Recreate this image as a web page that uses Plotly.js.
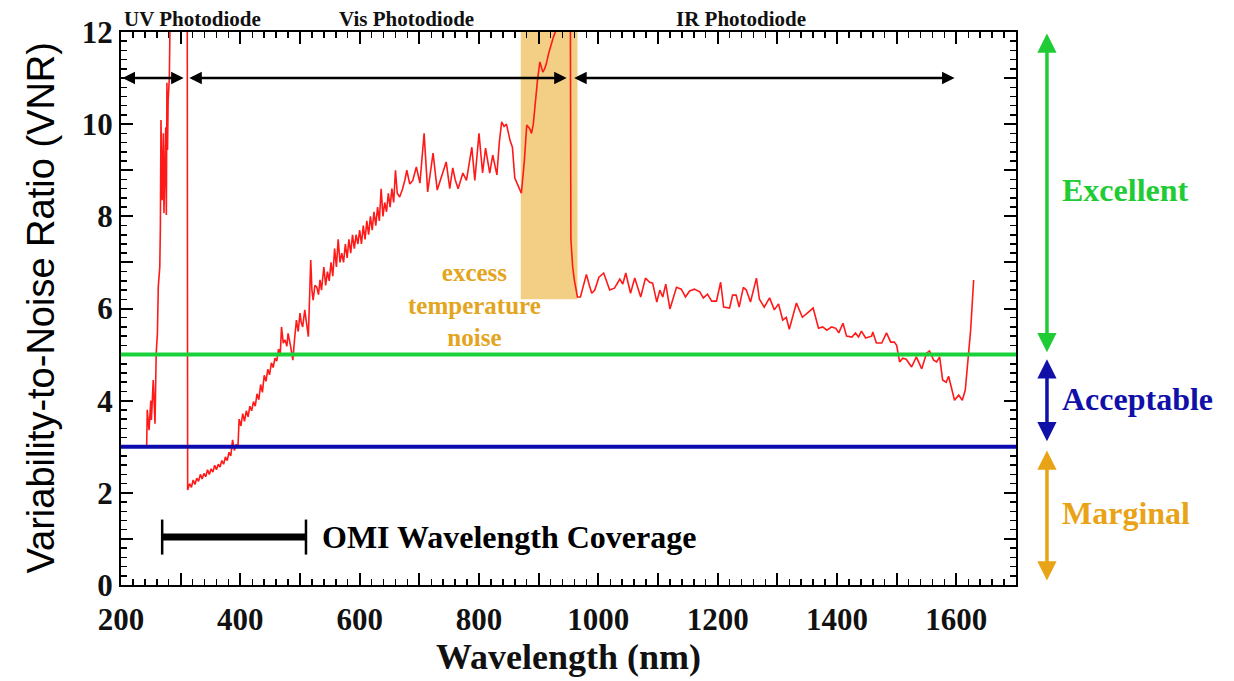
<!DOCTYPE html>
<html>
<head>
<meta charset="utf-8">
<script src="https://cdn.plot.ly/plotly-3.0.1.min.js"></script>
<style>html,body{margin:0;padding:0;background:#fff;}#chart{width:1234px;height:681px;}</style>
</head>
<body>
<div id="chart"></div>
<script>
// ---- Data (values above 12 run off the top of the plot) ----
const uvWl  = [243,244,247,250,251,254,257,259,261,262.5,265,266,267,269,271,272,275,276,277,278,279,281,283,300,311];
const uvVnr = [3.0,3.8,3.36,4.0,3.58,4.45,3.5,5.03,5.46,6.47,6.9,7.77,10.09,8.35,9.8,8.07,9.93,8.03,10.9,9.44,10.5,11.0,13,13,13];

const visWl  = [311.7,315,318,321,324,327,330,333,336,339,342,345,348,351,354,357,360,363,366,369,372,375,378,381,384,387,390,393,396,398,401,404,407,410,413,416,419,422,425,428,431,434,437,440,443,446,449,452,455,458,461,464,467,469,472,475,478,480,484,488,491,494,497,500,502,504.5,508,511,514,518,520,522,525,528,531,533.5,536,540,543,546,549,552,555,558,561,564,567,570,573,576,579,582,585,588,591,594,597,600,603,606,609,612,615,618,621,624,627,630,633,636,639,642,645,648,651,654,657,660,663,667,672,676,679,684,689,695,701,708,714,718,723,730,737,745,751,756,760,765,773,779,783,788,793,800,806,811,818,823,830,834,838,842,846,852,856,860,866,871,876,880,885,888,891,895,898,902,905,907,910,913,917,921,925,928,932,940,953];
const visVnr = [2.06,2.2,2.12,2.28,2.18,2.32,2.25,2.4,2.3,2.42,2.35,2.5,2.4,2.52,2.45,2.6,2.5,2.62,2.56,2.7,2.62,2.78,2.7,2.88,2.8,3.15,2.92,3.05,3.0,3.6,3.45,3.72,3.55,3.78,3.65,3.88,3.78,3.98,3.88,4.15,4.02,4.35,4.18,4.55,4.42,4.68,4.56,4.82,4.72,4.92,4.86,5.12,5.02,5.6,5.25,5.32,5.18,5.46,5.2,4.88,5.35,5.75,5.5,5.9,5.7,5.6,5.97,5.7,5.39,7.05,6.4,6.18,6.5,6.47,6.3,6.62,6.4,6.9,6.5,6.8,6.6,7.0,6.7,7.3,6.9,7.5,7.0,7.2,7.0,7.4,7.1,7.5,7.2,7.6,7.3,7.6,7.4,7.7,7.4,7.8,7.5,7.9,7.6,8.0,7.7,8.1,7.8,8.2,7.9,8.6,8.0,8.3,8.1,8.5,8.2,8.6,8.3,9.0,8.5,8.42,8.6,8.8,9.0,8.7,8.78,9.07,8.72,9.8,8.53,8.9,9.37,8.57,8.85,9.18,8.6,9.05,8.8,8.6,8.94,8.78,9.1,9.5,8.78,9.8,8.94,9.48,8.94,9.33,8.9,9.6,10.05,9.95,10.0,9.65,9.5,8.83,8.65,8.5,9.2,9.98,9.9,9.8,10.0,10.6,10.95,11.35,11.2,11.13,11.2,11.32,11.55,11.75,11.9,12.0,12.4,13,13];

const irWl  = [954,957,960,965,970,974,980,985,989,994,1001,1009,1019,1027,1036,1041,1046,1054,1061,1071,1079,1086,1091,1098,1103,1108,1113,1120,1131,1139,1146,1153,1161,1170,1176,1183,1190,1198,1205,1210,1220,1225,1231,1236,1243,1248,1255,1265,1270,1278,1287,1295,1302,1309,1315,1320,1332,1342,1351,1360,1369,1376,1383,1391,1398,1403,1410,1416,1425,1431,1436,1441,1448,1458,1460,1466,1475,1483,1490,1496,1500,1505,1510,1516,1525,1533,1542,1550,1555,1562,1567,1572,1577,1583,1587,1597,1604,1610,1615,1619,1624,1629];
const irVnr = [7.5,6.9,6.6,6.25,6.25,6.47,6.74,6.5,6.33,6.4,6.68,6.77,6.4,6.44,6.64,6.53,6.77,6.33,6.66,6.25,6.66,6.57,6.55,6.14,6.4,6.25,6.53,5.99,6.46,6.42,6.25,6.38,6.42,6.36,6.23,6.31,6.16,6.16,6.57,6.03,6.01,6.29,6.29,6.03,6.46,6.4,6.14,6.66,6.2,6.03,6.23,5.97,6.1,5.75,5.81,5.55,6.12,5.81,5.92,6.01,5.57,5.6,5.53,5.6,5.57,5.47,5.68,5.4,5.38,5.47,5.38,5.51,5.36,5.4,5.49,5.25,5.25,5.47,5.27,5.27,5.2,4.84,4.92,4.9,4.73,4.95,4.69,5.03,5.08,4.88,4.84,4.95,4.45,4.4,4.53,4.01,4.12,4.01,4.23,4.82,5.53,6.62];

const xTickVals = [200,300,400,500,600,700,800,900,1000,1100,1200,1300,1400,1500,1600,1700];
const xTickText = ['200','','400','','600','','800','','1000','','1200','','1400','','1600',''];
const yTickVals = [0,1,2,3,4,5,6,7,8,9,10,11,12];
const yTickText = ['0','','2','','4','','6','','8','','10','','12'];

const excellentLevel = 5;
const acceptableLevel = 3;
const omiRange = [269, 510];
const noiseBand = {x: [870, 965], y: [6.2, 12]};
const photodiodes = [
  {name: 'UV Photodiode',  label: 320,  from: 200, to: 305},
  {name: 'Vis Photodiode', label: 679,  from: 312, to: 947},
  {name: 'IR Photodiode',  label: 1239, from: 957, to: 1597}
];
const ratings = [
  {name: 'Excellent',  lo: 5.05, hi: 12,  mid: 8.57, color: '#1fcc35'},
  {name: 'Acceptable', lo: 3.12, hi: 4.93, mid: 4.04, color: '#1010a8'},
  {name: 'Marginal',   lo: 0.1,  hi: 2.95, mid: 1.56, color: '#e8a317'}
];

const wl  = uvWl.concat(visWl, irWl);
const vnr = uvVnr.concat(visVnr, irVnr);

const serif = 'Liberation Serif, Times New Roman, serif';
const sans = 'Liberation Sans, Arial, sans-serif';

const trace = {
  x: wl, y: vnr, type: 'scatter', mode: 'lines',
  line: {color: '#ff1a1a', width: 1.6},
  hoverinfo: 'skip', showlegend: false
};

const shapes = [
  {type: 'rect', xref: 'x', yref: 'y', x0: noiseBand.x[0], x1: noiseBand.x[1], y0: noiseBand.y[0], y1: noiseBand.y[1],
   fillcolor: '#f3cf85', line: {width: 0}, layer: 'below'},
  {type: 'line', xref: 'paper', yref: 'y', x0: 0, x1: 1, y0: excellentLevel, y1: excellentLevel,
   line: {color: '#19d23a', width: 4}},
  {type: 'line', xref: 'paper', yref: 'y', x0: 0, x1: 1, y0: acceptableLevel, y1: acceptableLevel,
   line: {color: '#0c0cae', width: 4}},
  {type: 'line', xref: 'x', yref: 'y', x0: omiRange[0], x1: omiRange[1], y0: 1.04, y1: 1.04,
   line: {color: '#000', width: 7}},
  {type: 'line', xref: 'x', yref: 'y', x0: omiRange[0], x1: omiRange[0], y0: 0.66, y1: 1.42,
   line: {color: '#000', width: 2.5}},
  {type: 'line', xref: 'x', yref: 'y', x0: omiRange[1], x1: omiRange[1], y0: 0.66, y1: 1.42,
   line: {color: '#000', width: 2.5}}
];

const annotations = [];
photodiodes.forEach(p => {
  annotations.push({text: p.name, xref: 'x', yref: 'paper', x: p.label, y: 1.0235,
    xanchor: 'center', yanchor: 'middle', showarrow: false,
    font: {family: serif, size: 21, color: '#111', weight: 'bold'}});
  annotations.push({text: '', xref: 'x', yref: 'y', x: p.to, y: 11, axref: 'x', ayref: 'y', ax: p.from, ay: 11,
    showarrow: true, arrowhead: 2, startarrowhead: 2, arrowside: 'end+start', arrowsize: 1, startarrowsize: 1,
    arrowwidth: 2.5, arrowcolor: '#000', standoff: 0, startstandoff: 0});
});
ratings.forEach(r => {
  annotations.push({text: '', xref: 'paper', yref: 'y', x: 1.0346, y: r.lo, axref: 'pixel', ayref: 'y', ax: 0, ay: r.hi,
    showarrow: true, arrowhead: 2, startarrowhead: 2, arrowside: 'end+start', arrowsize: 1.1, startarrowsize: 1.1,
    arrowwidth: 3.5, arrowcolor: r.color, standoff: 0, startstandoff: 0});
  annotations.push({text: r.name, xref: 'paper', yref: 'y', x: 1.049, y: r.mid,
    xanchor: 'left', yanchor: 'middle', showarrow: false,
    font: {family: serif, size: 32, color: r.color, weight: 'bold'}});
});
annotations.push({text: 'excess<br>temperature<br>noise', xref: 'x', yref: 'y', x: 793, y: 6.08,
  xanchor: 'center', yanchor: 'middle', showarrow: false, align: 'center',
  font: {family: serif, size: 25, color: '#e3a51e', weight: 'bold'}});
annotations.push({text: 'OMI Wavelength Coverage', xref: 'x', yref: 'y', x: 533, y: 1.04,
  xanchor: 'left', yanchor: 'middle', showarrow: false,
  font: {family: serif, size: 32, color: '#000', weight: 'bold'}});
annotations.push({text: 'Variability-to-Noise Ratio (VNR)', xref: 'paper', yref: 'paper', x: -0.0905, y: 0.5,
  xanchor: 'center', yanchor: 'middle', textangle: -90, showarrow: false,
  font: {family: sans, size: 38, color: '#000'}});
annotations.push({text: 'Wavelength (nm)', xref: 'paper', yref: 'paper', x: 0.5, y: -0.130,
  xanchor: 'center', yanchor: 'middle', showarrow: false,
  font: {family: serif, size: 36, color: '#111', weight: 'bold'}});

const axisCommon = {
  showline: true, linecolor: '#000', linewidth: 2, mirror: 'ticks',
  ticks: 'inside', tickcolor: '#000', tickwidth: 2, ticklen: 12,
  showgrid: false, zeroline: false, tickmode: 'array',
  tickfont: {family: serif, size: 31, color: '#111', weight: 'bold'}
};

const layout = {
  width: 1234, height: 681,
  margin: {l: 121, r: 218, t: 32, b: 96, pad: 0},
  paper_bgcolor: '#fff', plot_bgcolor: '#fff',
  showlegend: false,
  xaxis: Object.assign({}, axisCommon, {
    range: [200, 1700], tickvals: xTickVals, ticktext: xTickText, ticklabelstandoff: 6,
    minor: {dtick: 20, tick0: 200, ticks: 'inside', ticklen: 6, tickwidth: 1.5, tickcolor: '#000', showgrid: false}
  }),
  yaxis: Object.assign({}, axisCommon, {
    range: [0, 12], tickvals: yTickVals, ticktext: yTickText,
    minor: {dtick: 0.2, tick0: 0, ticks: 'inside', ticklen: 6, tickwidth: 1.5, tickcolor: '#000', showgrid: false}
  }),
  shapes: shapes,
  annotations: annotations
};

Plotly.newPlot('chart', [trace], layout, {displayModeBar: false, staticPlot: true});
</script>
</body>
</html>
